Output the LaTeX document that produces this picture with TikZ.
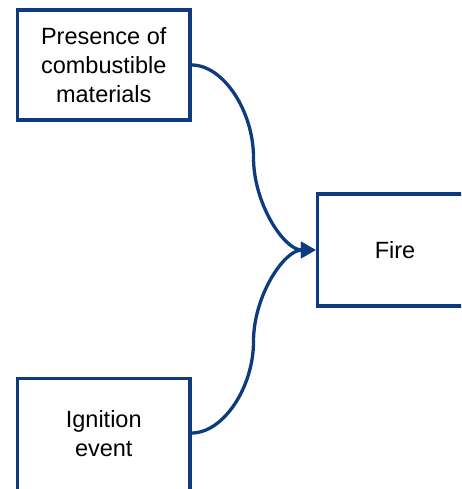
\documentclass[tikz,border=0pt]{standalone}
\usepackage{fontspec}
\setmainfont{Liberation Sans}
\usetikzlibrary{arrows.meta}
\definecolor{frame}{RGB}{14,58,126}
\begin{document}
\begin{tikzpicture}[x=1pt,y=-1pt,
  box/.style={draw=frame,line width=3.3pt,fill=white,minimum width=172.5pt,minimum height=110pt,
    inner sep=0pt,align=center,font=\fontsize{23.5pt}{29pt}\selectfont},
  link/.style={draw=frame,line width=3.3pt,-{Triangle[length=15pt,width=16pt]}}]
\useasboundingbox (0,0) rectangle (461,489);
\clip (0,0) rectangle (461,489);
\node[box] (fuel) at (103.75,65) {Presence of\\combustible\\materials};
\node[box,minimum width=155pt,minimum height=112pt] (fire) at (395,250) {Fire};
% the lower box runs past the bottom edge of the page
\node[box,minimum height=123pt,text depth=14pt] (ign) at (103.75,440) {Ignition\\event};
\coordinate (ignout) at ([yshift=7pt]ign.east);
\path[link] (fuel.east) .. controls +(31.75,0) and +(0,-46.25) .. (253.5,157.5)
  .. controls +(0,46.25) and +(-31.75,0) .. (fire.west);
\path[link] (ignout) .. controls +(31.75,0) and +(0,45.75) .. (253.5,341.5)
  .. controls +(0,-45.75) and +(-31.75,0) .. (fire.west);
\end{tikzpicture}
\end{document}
